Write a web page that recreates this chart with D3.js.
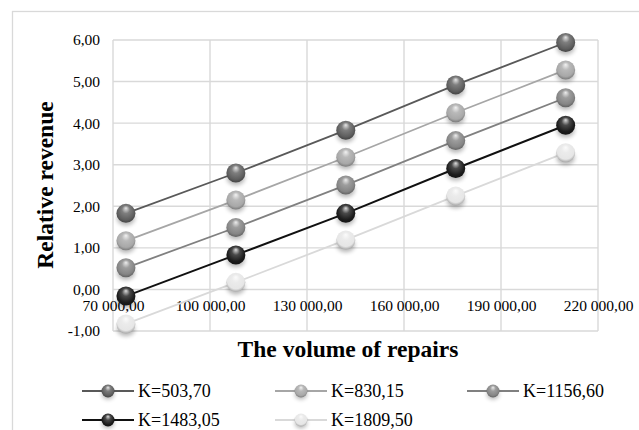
<!DOCTYPE html>
<html><head><meta charset="utf-8">
<script src="https://cdn.jsdelivr.net/npm/d3@7"></script>
<style>body{margin:0;background:#fff}svg{display:block}svg text{font-family:"Liberation Serif","Times New Roman",serif !important;fill:#000}</style>
</head><body><svg id="c" width="639" height="430"></svg>
<script>
const xValues = [74000, 108000, 142000, 176000, 210000];
const seriesNames = ["K=503,70", "K=830,15", "K=1156,60", "K=1483,05", "K=1809,50"];
const s1 = [1.83, 2.80, 3.83, 4.92, 5.94];
const s2 = [1.17, 2.15, 3.18, 4.25, 5.28];
const s3 = [0.52, 1.49, 2.51, 3.58, 4.61];
const s4 = [-0.16, 0.83, 1.83, 2.91, 3.95];
const s5 = [-0.83, 0.17, 1.19, 2.25, 3.29];
const xTicks = [70000, 100000, 130000, 160000, 190000, 220000];
const yTicks = [-1, 0, 1, 2, 3, 4, 5, 6];
const xTitle = "The volume of repairs";
const yTitle = "Relative revenue";

const seriesValues = [s1, s2, s3, s4, s5];
const lineColors = ["#595959", "#a6a6a6", "#808080", "#111111", "#d9d9d9"];
const ballColors = ["#5e5e5e", "#a8a8a8", "#858585", "#1c1c1c", "#e6e6e6"];

const svg = d3.select("#c");
const defs = svg.append("defs");
ballColors.forEach((c, i) => {
  const g = defs.append("radialGradient").attr("id", "ball" + i)
    .attr("cx", "50%").attr("cy", "45%").attr("r", "60%").attr("fx", "50%").attr("fy", "22%");
  const base = d3.color(c);
  g.append("stop").attr("offset", "0%").attr("stop-color", d3.interpolateRgb(c, "#fff")(0.85));
  g.append("stop").attr("offset", "35%").attr("stop-color", d3.interpolateRgb(c, "#fff")(0.2));
  g.append("stop").attr("offset", "75%").attr("stop-color", c);
  g.append("stop").attr("offset", "100%").attr("stop-color", base.darker(1.2));
});
const f = defs.append("filter").attr("id", "sh").attr("x", "-50%").attr("y", "-50%").attr("width", "200%").attr("height", "200%");
f.append("feGaussianBlur").attr("stdDeviation", 2);

// outer frame
svg.append("rect").attr("x", 12.5).attr("y", 11.5).attr("width", 700).attr("height", 500)
  .attr("fill", "none").attr("stroke", "#d9d9d9").attr("stroke-width", 1.3);

const x = d3.scaleLinear().domain([70000, 220000]).range([113, 598]);
const y = d3.scaleLinear().domain([-1, 6]).range([331, 40]);

// gridlines
const grid = svg.append("g").attr("stroke", "#d9d9d9").attr("stroke-width", 1.4);
grid.selectAll(".h").data(yTicks).join("line")
  .attr("x1", x.range()[0]).attr("x2", x.range()[1]).attr("y1", d => y(d)).attr("y2", d => y(d));
grid.selectAll(".v").data(xTicks).join("line")
  .attr("y1", y.range()[0]).attr("y2", y.range()[1]).attr("x1", d => x(d)).attr("x2", d => x(d));

const fmt = d => d3.format(",.2f")(d).replace(/,/g, " ").replace(".", ",");
const fmtY = d => d3.format(".2f")(d).replace(".", ",").replace("\u2212", "-");

const xa = svg.append("g").attr("transform", `translate(0,${y(0)})`)
  .call(d3.axisBottom(x).tickValues(xTicks).tickSize(0).tickPadding(11).tickFormat(fmt));
const ya = svg.append("g").attr("transform", `translate(${x.range()[0]},0)`)
  .call(d3.axisLeft(y).tickValues(yTicks).tickSize(0).tickPadding(13).tickFormat(fmtY));
[xa, ya].forEach(a => {
  a.select(".domain").remove();
  a.attr("font-family", null);
  a.selectAll("text").attr("font-size", 15.5).attr("fill", "#000");
});

// lines
const line = d3.line().x((d, i) => x(xValues[i])).y(d => y(d));
seriesValues.forEach((vals, si) => {
  svg.append("path").datum(vals).attr("d", line).attr("fill", "none")
    .attr("stroke", lineColors[si]).attr("stroke-width", si === 3 ? 2 : 1.8);
});
function ball(g, cx, cy, r, si) {
  g.append("ellipse").attr("cx", cx).attr("cy", cy + r * 0.55).attr("rx", r * 0.95).attr("ry", r * 0.75)
    .attr("fill", "#000").attr("opacity", 0.28).attr("filter", "url(#sh)");
  g.append("circle").attr("cx", cx).attr("cy", cy).attr("r", r).attr("fill", `url(#ball${si})`);
}
seriesValues.forEach((vals, si) => {
  const g = svg.append("g");
  vals.forEach((v, i) => ball(g, x(xValues[i]), y(v), 9.5, si));
});

// axis titles
svg.append("text").attr("x", 348).attr("y", 357).attr("text-anchor", "middle")
  .attr("font-size", 23.5).attr("font-weight", "bold").text(xTitle);
svg.append("text").attr("transform", "translate(53,185) rotate(-90)").attr("text-anchor", "middle")
  .attr("font-size", 23.5).attr("font-weight", "bold").text(yTitle);

// legend
const legX = [82, 275, 467];
const legY = [391, 420];
seriesNames.forEach((n, si) => {
  const col = si % 3, row = Math.floor(si / 3);
  const lx = legX[col], ly = legY[row];
  const g = svg.append("g");
  g.append("line").attr("x1", lx).attr("x2", lx + 52).attr("y1", ly).attr("y2", ly)
    .attr("stroke", lineColors[si]).attr("stroke-width", 1.8);
  ball(g, lx + 26, ly, 6.5, si);
  g.append("text").attr("x", lx + 56).attr("y", ly).attr("dy", "0.35em")
    .attr("font-size", 18).text(n);
});
</script></body></html>
